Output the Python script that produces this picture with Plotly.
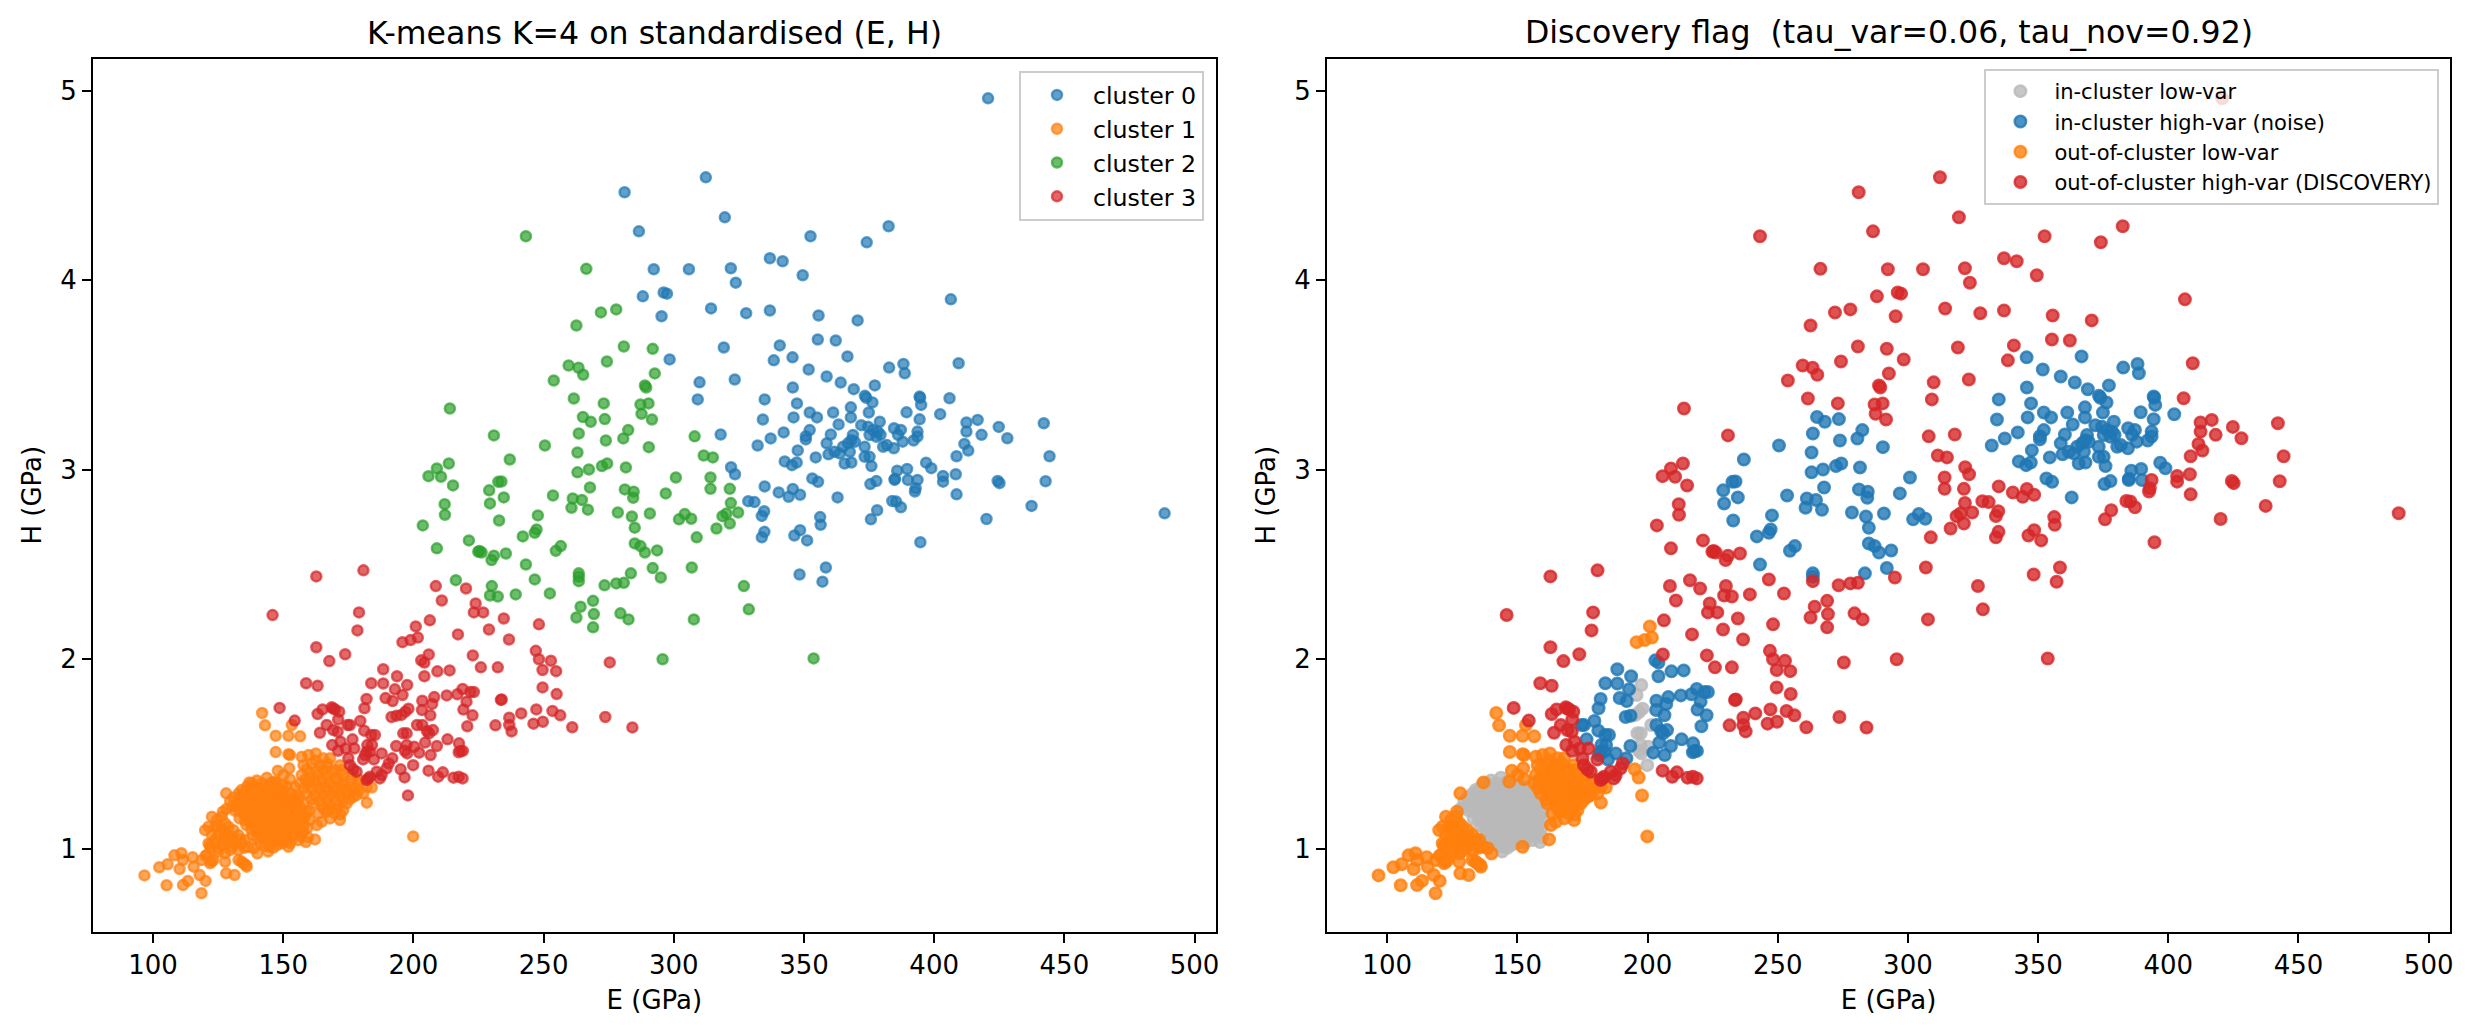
import plotly.graph_objects as go

# values as (E, H), grouped by left-panel cluster and right-panel flag
c0_noise = [(345.6,3.593),(366.7,3.598),(351.8,3.529),(358.7,3.492),(364.1,3.46),(369.1,3.425),(377.2,3.445),(373.4,3.39),(373.9,3.38),(376.3,3.355),
    (345.7,3.434),(347.3,3.35),(334.9,3.371),(334.2,3.265),(346,3.276),(352.2,3.302),(355,3.276),(361.2,3.302),(368,3.329),(368,3.276),
    (374.9,3.302),(363.3,3.239),(342.2,3.197),(337.2,3.165),(332.2,3.128),(352.2,3.209),(350.7,3.177),(350.7,3.16),(360.3,3.186),(358.7,3.139),
    (347.6,3.102),(354.5,3.065),(359.4,3.081),(342.6,3.044),(345.4,3.024),(347.2,3.038),(353.2,2.954),(355.4,2.936),(362.9,2.854),(375.5,2.924),
    (377.8,2.94),(368.8,3.183),(368.2,3.156),(366.9,3.139),(365,3.121),(369.5,3.147),(363.7,3.086),(361.8,3.095),(367.6,3.095),(365.6,3.033),
    (368.2,3.038),(373.3,3.121),(375.2,3.068),(373.3,3.068),(375.9,3.019),(372,3.235),(374.6,3.227),(379.1,3.253),(376.5,3.209),(378.4,3.2),
    (375.2,3.183),(377.8,3.174),(380.4,3.121),(382.7,3.539),(388.2,3.558),(388.7,3.509),(394.4,3.386),(394.6,3.38),(395,3.342),(389.4,3.303),
    (402.3,3.293),(394.4,3.266),(384.6,3.219),(387.2,3.21),(386.1,3.184),(393.6,3.201),(393.6,3.175),(392.1,3.154),(387.9,3.148),(384.5,3.113),
    (381.8,3.13),(379.4,3.184),(385.8,2.995),(389.6,3.004),(396.9,3.037),(398.9,3.008),(384.8,2.946),(384.9,2.952),(389.9,2.946)]
c0_disc = [(420.7,4.96),(312.3,4.543),(319.6,4.332),(286.6,4.258),(352.5,4.232),(374.1,4.2),(382.5,4.285),(336.9,4.116),(341.8,4.1),(349.5,4.026),
    (321.9,4.063),(323.8,3.987),(305.8,4.058),(292.3,4.058),(288.1,3.915),(296.1,3.935),(297.4,3.929),(295.3,3.81),(314.3,3.851),(327.8,3.826),
    (336.9,3.84),(355.6,3.814),(370.6,3.788),(406.4,3.899),(319.2,3.645),(340.7,3.656),(355.3,3.687),(362.2,3.682),(338.4,3.577),(298.4,3.582),
    (309.9,3.461),(323.4,3.476),(309.2,3.371),(318,3.186),(322,3.013),(323.5,2.976),(334.9,2.912),(340.3,2.88),(345.7,2.898),(344.1,2.857),
    (348.5,2.868),(328.6,2.834),(331,2.829),(334.7,2.781),(333.8,2.756),(334.8,2.672),(333.8,2.643),(348.5,2.681),(346.3,2.653),(351.2,2.627),
    (356.2,2.75),(356.4,2.709),(348.3,2.447),(358.4,2.484),(357.1,2.409),(375.7,2.738),(378.1,2.786),(409.4,3.562),(405.9,3.377),(412.4,3.249),
    (416.7,3.263),(412.4,3.201),(424.8,3.226),(418.2,3.184),(428.1,3.166),(442.1,3.245),(444.3,3.071),(411.6,3.136),(413.1,3.101),(408.6,3.071),
    (408.3,2.976),(403.4,2.967),(403.4,2.937),(424.4,2.941),(425.1,2.929),(442.8,2.939),(408.6,2.87),(437.4,2.809),(488.5,2.77),(420.1,2.74),
    (392.9,2.902),(393.6,2.946),(392.6,2.885),(383.9,2.835),(385.4,2.832),(387.2,2.802),(394.7,2.617),(281.1,4.464)]

c1_gray = [(139.9,1.36),(143.7,1.375),(147.2,1.35),(151.3,1.33),(154.4,1.325),(136.2,1.33),(140.8,1.32),(144.9,1.33),(148.6,1.31),(152.7,1.295),
    (156.2,1.27),(132.8,1.29),(137.1,1.285),(141.4,1.28),(145.8,1.285),(149.9,1.27),(153.8,1.25),(157.6,1.24),(159.9,1.2),(129.6,1.25),
    (133.7,1.245),(138.2,1.24),(142.5,1.235),(146.6,1.24),(150.7,1.225),(154.8,1.21),(158.4,1.17),(128.2,1.21),(131.5,1.2),(135.7,1.205),
    (139.6,1.2),(143.8,1.19),(148.1,1.195),(152.3,1.18),(156.2,1.165),(160.2,1.15),(133.2,1.16),(137.4,1.165),(141.6,1.15),(145.7,1.155),
    (149.8,1.14),(153.9,1.135),(157.8,1.12),(135.8,1.125),(139.5,1.11),(143.4,1.115),(147.6,1.105),(151.8,1.09),(155.9,1.08),(159.5,1.06),
    (138.2,1.07),(141.8,1.075),(145.6,1.06),(149.4,1.05),(152.8,1.03),(158.7,1.035),(141.2,1.03),(144.8,1.01),(147.9,1.02),(144.2,0.985),
    (155.8,1.045),(141.9,1.345),(146,1.31),(150,1.305),(135,1.3),(139.2,1.3),(143.5,1.305),(147.5,1.28),(151.8,1.255),(155.5,1.24),
    (131,1.27),(135.5,1.265),(140,1.26),(144.5,1.255),(148.5,1.25),(152.8,1.225),(130.5,1.225),(134.5,1.225),(138.6,1.215),(142.8,1.21),
    (147,1.21),(151,1.2),(155.5,1.19),(159,1.19),(135,1.18),(139.5,1.175),(143.8,1.17),(148,1.165),(152,1.155),(156,1.14),
    (137.5,1.135),(141.5,1.13),(145.7,1.125),(149.5,1.11),(153.8,1.1),(157.7,1.09),(140,1.09),(143.8,1.08),(147.8,1.07),(151.5,1.065),
    (142.5,1.05),(146.5,1.04),(150,1.03),(138,1.345),(145.5,1.35),(149.5,1.335),(134,1.31),(138,1.315),(142.7,1.32),(143.5,1.285),
    (147,1.295),(151,1.28),(155,1.285),(133.5,1.265),(137.8,1.265),(142,1.26),(146.5,1.265),(150.5,1.25),(154.5,1.265),(132,1.225),
    (136.3,1.235),(140.5,1.225),(144.7,1.225),(148.8,1.23),(153,1.24),(156.8,1.215),(133,1.2),(137.5,1.19),(141.7,1.19),(146,1.18),
    (150,1.175),(154,1.165),(157.5,1.155),(135.3,1.15),(139.6,1.145),(143.7,1.145),(147.8,1.135),(151.7,1.125),(155.7,1.115),(159.3,1.11),
    (137.7,1.1),(141.6,1.1),(145.5,1.09),(149.6,1.085),(153.6,1.07),(156.6,1.065),(140,1.055),(144,1.045),(148,1.045),(151.5,1.04),
    (143,1.015),(146.2,1.005)]
c1_orange = [(141.9,1.716),(143,1.651),(147.1,1.596),(152,1.596),(156.5,1.593),(153.3,1.653),(147.1,1.51),(152,1.499),(152.6,1.494),(147.9,1.412),
    (152.3,1.424),(150.1,1.389),(152.6,1.366),(146.9,1.354),(137,1.35),(128.1,1.292),(126.8,1.195),(157.1,1.485),(159.7,1.494),(162.5,1.503),
    (165.4,1.477),(168,1.477),(157.8,1.441),(161,1.45),(164.2,1.441),(166.7,1.433),(169.9,1.415),(171.8,1.441),(157.1,1.389),(160.3,1.397),
    (163.5,1.389),(166.7,1.38),(169.9,1.371),(173.1,1.389),(176.3,1.389),(156.5,1.345),(159.7,1.345),(162.9,1.336),(166.1,1.327),(169.3,1.327),
    (172.5,1.336),(175.7,1.327),(178.9,1.345),(182.1,1.327),(184,1.323),(159,1.292),(162.2,1.283),(165.4,1.283),(168.6,1.283),(171.8,1.283),
    (175,1.292),(178.2,1.283),(180.8,1.292),(161.6,1.239),(164.8,1.23),(168,1.23),(171.2,1.23),(174.4,1.239),(182.1,1.243),(177,1.274),
    (163.5,1.186),(166.7,1.195),(169.9,1.186),(173.1,1.204),(171.8,1.151),(164.8,1.142),(162.9,1.125),(162.2,1.049),(199.9,1.065),(152,1.01),
    (167,1.45),(163,1.41),(168.5,1.405),(160,1.37),(165,1.36),(171,1.36),(176,1.36),(158,1.32),(164,1.31),(170,1.305),
    (174,1.31),(179,1.31),(161,1.26),(167,1.26),(173,1.26),(165.5,1.21),(172,1.18),(168,1.16),
    (159,1.42),(162.5,1.465),(165.5,1.415),(172.5,1.415),(158.5,1.365),(162,1.36),(167.5,1.35),(173,1.355),(179,1.365),(161,1.315),
    (167,1.305),(172,1.3),(177,1.31),(164,1.255),(170,1.25),(175.5,1.26),(167.5,1.205),(170.5,1.21),
    (122.6,1.169),(124.5,1.151),(126.4,1.169),(127.7,1.134),(121.3,1.116),(123.9,1.116),(126.4,1.107),(129,1.116),(130.9,1.098),(120,1.098),
    (122.6,1.072),(125.1,1.072),(127.7,1.072),(130.3,1.063),(132.8,1.072),(135.4,1.046),(121.3,1.028),(123.9,1.028),(126.4,1.019),(129,1.028),
    (131.5,1.028),(134.1,1.028),(136.6,1.01),(138.6,1.002),(140.1,0.975),(125.1,0.984),(127.7,0.975),(129.6,0.993),(132.8,0.993),(121.9,1.019),
    (120.7,0.966),(118.7,0.94),(121.9,0.923),(127.7,0.931),(132.8,0.94),(134.7,0.923),(136,0.905),(123.2,0.94),(128.1,0.87),(131.3,0.861),
    (124.5,1.12),(127.5,1.09),(129,1.06),(124,1.05),(127.5,1.045),(130.5,1.045),(133.5,1.05),(125,1.0),(130.5,1.01),(135,1.005),(122,1.0),
    (96.7,0.859),(102.4,0.902),(105.6,0.918),(105.2,0.807),(110.2,0.893),(108.2,0.965),(110.9,0.976),(111.5,0.94),(111.5,0.808),(113.4,0.83),
    (115.2,0.955),(115.6,0.905),(117.9,0.861),(120.2,0.83),(118.6,0.765),(120.2,0.963),(122.5,0.932),(135.7,0.914),(133.9,0.932)]

c2_noise = [(250.5,3.128),(237,3.054),(265.1,3.278),(268.1,3.253),(273.5,3.267),(263.5,3.191),(273.9,3.154),(280.6,3.165),(282.5,3.209),(290.4,3.119),
    (263,3.091),(281.6,3.012),(263,2.986),(267.4,3.001),(272.4,3.019),(274.4,3.033),(300.8,2.959),(267.8,2.906),(281.2,2.896),(284.6,2.884),
    (284.4,2.852),(296.9,2.875),(253.6,2.864),(261.2,2.848),(264.7,2.84),(260.7,2.799),(267,2.789),(278.5,2.774),(290.8,2.769),(283.9,2.753),
    (285,2.694),(302,2.738),(304.2,2.766),(306.7,2.741),(247.8,2.759),(247.3,2.685),(246.6,2.667),(242,2.648),(256.6,2.597),(254.7,2.572),
    (285,2.611),(287.2,2.597),(288.9,2.563),(293.6,2.574),(283.5,2.453),(291.9,2.481),(243.2,2.5),(263.5,2.453),(263.5,2.435),(229.1,2.891),
    (232.6,2.936),(233.8,2.938),(234.7,2.854),(229.4,2.822),(232.9,2.732)]
c2_disc = [(272,3.83),(277.9,3.846),(262.6,3.761),(280.8,3.65),(291.9,3.638),(274.3,3.571),(259.6,3.55),(263.4,3.538),(265.2,3.501),(253.9,3.471),
    (292.7,3.508),(288.9,3.445),(289.4,3.434),(261.6,3.376),(273.1,3.35),(287.2,3.344),(290.3,3.35),(287.6,3.295),(291.6,3.265),(230.9,3.181),
    (214,3.323),(308,3.176),(311.5,3.075),(315,3.065),(314.1,2.959),(314.1,2.899),(321.5,2.899),(321.9,2.824),(324.7,2.774),(318.7,2.755),
    (320.2,2.769),(321.5,2.716),(316.4,2.69),(326.9,2.386),(328.8,2.263),(307.7,2.21),(306.9,2.484),(308.8,2.643),(295,2.431),(280.8,2.403),
    (277.9,2.4),(273.4,2.39),(263.5,2.412),(269,2.308),(264.2,2.277),(269.3,2.238),(262.6,2.22),(269,2.168),(279.5,2.242),(282.6,2.21),
    (295.7,2.0),(353.7,2.004),(203.6,2.706),(209,2.585),(221.3,2.627),(224.9,2.567),(225.4,2.571),(226.2,2.563),(230.9,2.546),(230,2.523),
    (235.5,2.558),(205.8,2.966),(209,3.007),(210.6,2.963),(213.6,3.033),(215.2,2.917),(212,2.818),(212.1,2.762),(216.3,2.417),(230.1,2.386),
    (229.4,2.336),(232.4,2.331),(239.3,2.342),(246.6,2.421),(252.4,2.347),(266.4,4.06),(243.2,4.232)]

c3_gray = [(197.6,1.864),(195.8,1.811),(196.9,1.723),(198.1,1.739),(195.4,1.706),(201.4,1.653),(196.1,1.609),(197.4,1.609),(197.4,1.547),(200.3,1.538),
    (197.6,1.503),(196.7,1.517),(199.9,1.441)]
c3_noise = [(213.9,1.941),(209.2,1.936),(203,1.994),(204.2,1.982),(204.2,1.91),(188.4,1.947),(193.7,1.91),(183.8,1.873),(188.4,1.872),(192.9,1.841),
    (182,1.79),(181.2,1.741),(189.3,1.795),(192,1.779),(203.4,1.781),(208,1.8),(212.8,1.809),(216.9,1.815),(218.9,1.843),(221.9,1.827),
    (223.2,1.827),(220.4,1.776),(207.2,1.764),(203.3,1.732),(219.2,1.734),(222.7,1.704),(206.5,1.704),(220.7,1.646),(193.5,1.702),(191.6,1.695),
    (203.4,1.653),(205.2,1.621),(207.5,1.626),(206,1.609),(204.5,1.56),(213.1,1.577),(209,1.542),(217.5,1.556),(206.6,1.494),(202.2,1.507),
    (218.1,1.516),(219,1.516),(217.4,1.509),(193.4,1.542),(191.9,1.477),(174.7,1.653),(175.6,1.653),(179.6,1.674),(181.1,1.623),(183.8,1.6),
    (185.2,1.6),(182.3,1.547),(184.1,1.547),(176.6,1.577),(182,1.512),(183.3,1.512),(181.4,1.494),(187.8,1.503),(184.8,1.471)]
c3_orange = [(200.9,2.173),(201.7,2.114),(198.9,2.101),(195.8,2.09),(195.1,1.419),(196.6,1.376),(197.9,1.281)]
c3_disc = [(208.6,2.386),(220.2,2.373),(210.9,2.31),(223.9,2.294),(223.2,2.247),(226.8,2.247),(234.7,2.215),(229,2.157),(217.1,2.131),(206.3,2.205),
    (236.7,2.104),(248.2,2.184),(205.9,2.025),(222.8,2.02),(225.9,1.957),(232.4,1.957),(247,2.044),(248.2,2),(252.8,1.992),(249.6,1.943),
    (254.8,1.937),(249.6,1.851),(255,1.816),(233.6,1.785),(233.9,1.788),(275.4,1.983),(162.7,2.437),(180.8,2.469),(145.9,2.233),(179.1,2.247),
    (178.5,2.152),(162.7,2.063),(173.8,2.026),(167.7,1.99),(158.8,1.873),(163.2,1.86),(148.6,1.743),(154.4,1.676),(241.4,1.714),(247.2,1.735),
    (253.4,1.727),(256.4,1.704),(231.5,1.651),(236.8,1.691),(236.8,1.653),(237.7,1.619),(246.1,1.66),(249.7,1.67),(261,1.641),(273.7,1.695),
    (284.1,1.64),(205.8,1.412),(209.5,1.38),(211.3,1.403),(215.4,1.375),(217.4,1.38),(218.9,1.371),(164.1,1.612),(163.2,1.711),(165.1,1.735),
    (168.6,1.746),(169.2,1.74),(169.9,1.735),(171.5,1.723),(171.1,1.682),(166.7,1.653),(169.2,1.626),(170.9,1.617),(172,1.565),(168.8,1.547),
    (171.1,1.517),(174,1.529),(177.3,1.529),(180.7,1.471),(175,1.477),(175.6,1.441),(176.9,1.419),(178.2,1.406),(182.7,1.371),(182,1.362),
    (183.3,1.38),(185.9,1.406),(187.8,1.389),(187.1,1.371),(189.7,1.424),(190.5,1.45)]

x_ticks = [100, 150, 200, 250, 300, 350, 400, 450, 500]
y_ticks = [1, 2, 3, 4, 5]

BLUE, ORANGE, GREEN, RED = (31,119,180), (255,127,14), (44,160,44), (214,39,40)
GRAY = (185,185,185)
FONT = "DejaVu Sans"

left_groups = [
    ("cluster 0", c0_noise + c0_disc, BLUE),
    ("cluster 1", c1_gray + c1_orange, ORANGE),
    ("cluster 2", c2_noise + c2_disc, GREEN),
    ("cluster 3", c3_gray + c3_noise + c3_orange + c3_disc, RED),
]
right_groups = [
    ("in-cluster low-var", c1_gray + c3_gray, GRAY),
    ("in-cluster high-var (noise)", c0_noise + c2_noise + c3_noise, BLUE),
    ("out-of-cluster low-var", c1_orange + c3_orange, ORANGE),
    ("out-of-cluster high-var (DISCOVERY)", c0_disc + c2_disc + c3_disc, RED),
]


def scatter(name, pts, rgb, alpha, size, xaxis, legend):
    col = "rgba(%d,%d,%d,%s)" % (rgb + (alpha,))
    return go.Scatter(
        x=[p[0] for p in pts], y=[p[1] for p in pts],
        mode="markers", name=name, xaxis=xaxis, yaxis=xaxis.replace("x", "y"), legend=legend,
        marker=dict(size=size, color=col, line=dict(width=2.5, color=col)),
    )


fig = go.Figure()
for name, pts, rgb in left_groups:
    fig.add_trace(scatter(name, pts, rgb, 0.7, 10, "x", "legend"))
for name, pts, rgb in right_groups:
    fig.add_trace(scatter(name, pts, rgb, 0.8, 11.5, "x2", "legend2"))

axis_style = dict(
    showline=True, mirror=True, linecolor="black", linewidth=2,
    ticks="outside", ticklen=9, tickwidth=2, tickcolor="black",
    showgrid=False, zeroline=False, automargin=False,
    tickfont=dict(family=FONT, size=26, color="black"),
)
x_style = dict(axis_style, range=[76.9, 508.2], tickvals=x_ticks, title=dict(
    text="E (GPa)", font=dict(family=FONT, size=26, color="black"), standoff=12))
y_style = dict(axis_style, range=[0.562, 5.169], tickvals=y_ticks, title=dict(
    text="H (GPa)", font=dict(family=FONT, size=26, color="black"), standoff=11))

y_dom = [1 - 931.7 / 1035, 1 - 58.7 / 1035]
legend_style = dict(
    xanchor="right", yanchor="top", bgcolor="rgba(255,255,255,0.8)",
    bordercolor="#cccccc", borderwidth=2, itemsizing="trace", traceorder="normal",
)

fig.update_layout(
    width=2473, height=1035, margin=dict(l=0, r=0, t=0, b=0),
    paper_bgcolor="white", plot_bgcolor="white", hovermode=False,
    xaxis=dict(x_style, domain=[92.9 / 2473, 1215.9 / 2473], anchor="y"),
    yaxis=dict(y_style, domain=y_dom, anchor="x"),
    xaxis2=dict(x_style, domain=[1327 / 2473, 2450 / 2473], anchor="y2"),
    yaxis2=dict(y_style, domain=y_dom, anchor="x2"),
    legend=dict(legend_style, x=1204 / 2473, y=1 - 71 / 1035, itemwidth=62,
                font=dict(family=FONT, size=23.7, color="black")),
    legend2=dict(legend_style, x=2439.4 / 2473, y=1 - 69 / 1035, itemwidth=58,
                 font=dict(family=FONT, size=21, color="black")),
)

titles = [("x domain", "y domain", "K-means K=4 on standardised (E, H)"),
          ("x2 domain", "y2 domain", "Discovery flag  (tau_var=0.06, tau_nov=0.92)")]
for xref, yref, text in titles:
    fig.add_annotation(xref=xref, yref=yref, x=0.5, y=1, yanchor="bottom", yshift=6, showarrow=False,
                       text=text.replace("  ", "&nbsp; "), font=dict(family=FONT, size=31.6, color="black"))

fig.write_html("out.html", config=dict(displayModeBar=False), post_script="document.body.style.margin='0';")
